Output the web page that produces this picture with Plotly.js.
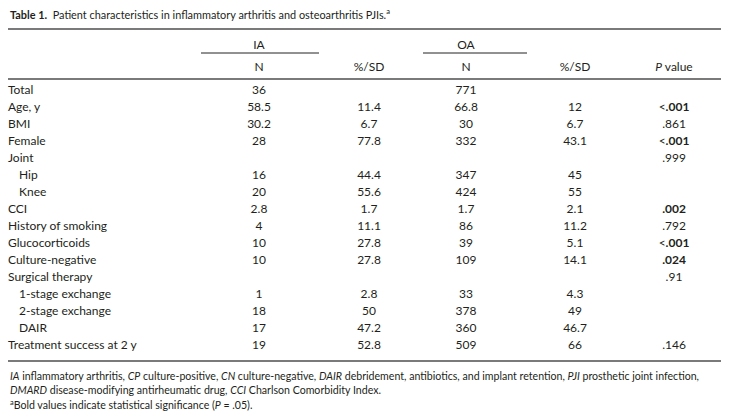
<!DOCTYPE html>
<html>
<head>
<meta charset="utf-8">
<script src="https://cdn.plot.ly/plotly-3.0.1.min.js"></script>
<style>html,body{margin:0;padding:0;background:#fff;}#chart{width:729px;height:412px;}</style>
</head>
<body>
<div id="chart"></div>
<script>
// ---- data ----
const rowLabels = ["Total","Age, y","BMI","Female","Joint","Hip","Knee","CCI","History of smoking","Glucocorticoids","Culture-negative","Surgical therapy","1-stage exchange","2-stage exchange","DAIR","Treatment success at 2 y"];
const subRows = [false,false,false,false,false,true,true,false,false,false,false,false,true,true,true,false];
const iaN   = [36,58.5,30.2,28,null,16,20,2.8,4,10,10,null,1,18,17,19];
const iaPct = [null,11.4,6.7,77.8,null,44.4,55.6,1.7,11.1,27.8,27.8,null,2.8,50,47.2,52.8];
const oaN   = [771,66.8,30,332,null,347,424,1.7,86,39,109,null,33,378,360,509];
const oaPct = [null,12,6.7,43.1,null,45,55,2.1,11.2,5.1,14.1,null,4.3,49,46.7,66];
const pValues = ["","<.001",".861","<.001",".999","","",".002",".792","<.001",".024",".91","","","",".146"];
const pSignificant = [false,true,false,true,false,false,false,true,false,true,true,false,false,false,false,false];
const groupHeaders = ["IA","OA"];
const colHeaders = ["N","%/SD","N","%/SD","<i>P</i> value"];

// ---- layout constants (pixels) ----
const W = 729, H = 412;
const rowTop = 91, rowStep = 17;
const yOf = px => (px - rowTop) / rowStep;
const labelX = 8, indentX = 19;
const colX = [259, 369, 466, 575, 674];
const groupRule = [[201, 319], [423, 527]];
const txt = "#231f20";
const fam = "Lato, 'Open Sans', sans-serif";
const fs = 12;

const idx = rowLabels.map((_, i) => i);
const fmt = v => (v === null ? "" : String(v));
const pText = pValues.map((p, i) => {
  if (!p) return "";
  let s = p.startsWith("<") ? "<span style=\"font-weight:normal\">&lt;</span>" : "";
  let core = p.replace("<", "");
  return s + (pSignificant[i] ? "<b>" + core + "</b>" : core);
});

function textTrace(xs, ys, texts, pos) {
  const keep = texts.map((t, i) => i).filter(i => texts[i] !== "");
  return {type: "scatter", mode: "text",
    x: keep.map(i => xs[i]), y: keep.map(i => ys[i]), text: keep.map(i => texts[i]),
    textposition: pos, textfont: {family: fam, size: fs, color: txt},
    hoverinfo: "skip", showlegend: false, cliponaxis: false};
}

const traces = [
  textTrace(idx.map(i => subRows[i] ? indentX : labelX), idx, rowLabels, "middle right"),
  textTrace(idx.map(() => colX[0]), idx, iaN.map(fmt), "middle center"),
  textTrace(idx.map(() => colX[1]), idx, iaPct.map(fmt), "middle center"),
  textTrace(idx.map(() => colX[2]), idx, oaN.map(fmt), "middle center"),
  textTrace(idx.map(() => colX[3]), idx, oaPct.map(fmt), "middle center"),
  textTrace(idx.map(() => colX[4]), idx, pText, "middle center"),
  textTrace(colX, colHeaders.map(() => yOf(68)), colHeaders, "middle center"),
  textTrace([colX[0], colX[2]], [yOf(46), yOf(46)], groupHeaders, "middle center")
];

const annotations = [
  {xref: "x", yref: "y", x: labelX, y: yOf(13), xanchor: "left", yanchor: "middle", showarrow: false,
   text: "<b>Table 1.</b>  Patient characteristics in inflammatory arthritis and osteoarthritis PJIs.<sup>a</sup>",
   font: {family: fam, size: 10.9, color: txt}},
  {xref: "x", yref: "y", x: labelX, y: yOf(376), xanchor: "left", yanchor: "middle", showarrow: false,
   text: "<i>IA</i> inflammatory arthritis, <i>CP</i> culture-positive, <i>CN</i> culture-negative, <i>DAIR</i> debridement, antibiotics, and implant retention, <i>PJI</i> prosthetic joint infection,",
   font: {family: fam, size: 10.6, color: txt}},
  {xref: "x", yref: "y", x: labelX, y: yOf(390), xanchor: "left", yanchor: "middle", showarrow: false,
   text: "<i>DMARD</i> disease-modifying antirheumatic drug, <i>CCI</i> Charlson Comorbidity Index.",
   font: {family: fam, size: 10.6, color: txt}},
  {xref: "x", yref: "y", x: labelX, y: yOf(404), xanchor: "left", yanchor: "middle", showarrow: false,
   text: "<sup>a</sup>Bold values indicate statistical significance (<i>P</i> = .05).",
   font: {family: fam, size: 10.6, color: txt}}
];

const rule = (x0, x1, ypx, color, w) => ({type: "line", xref: "x", yref: "y",
  x0: x0, x1: x1, y0: yOf(ypx), y1: yOf(ypx), line: {color: color, width: w}});
const shapes = [
  rule(8, 721, 29, "#7a7a7a", 2),
  rule(groupRule[0][0], groupRule[0][1], 53, "#222", 1),
  rule(groupRule[1][0], groupRule[1][1], 53, "#222", 1),
  rule(8, 721, 79, "#7a7a7a", 2),
  rule(8, 721, 361, "#7a7a7a", 2)
];

const layout = {
  width: W, height: H,
  margin: {l: 0, r: 0, t: 0, b: 0, pad: 0},
  paper_bgcolor: "#fff", plot_bgcolor: "#fff",
  xaxis: {range: [0, W], visible: false, fixedrange: true},
  yaxis: {range: [yOf(H), yOf(0)], visible: false, fixedrange: true},
  annotations: annotations, shapes: shapes, showlegend: false
};

Plotly.newPlot("chart", traces, layout, {displayModeBar: false, staticPlot: true});
</script>
</body>
</html>
